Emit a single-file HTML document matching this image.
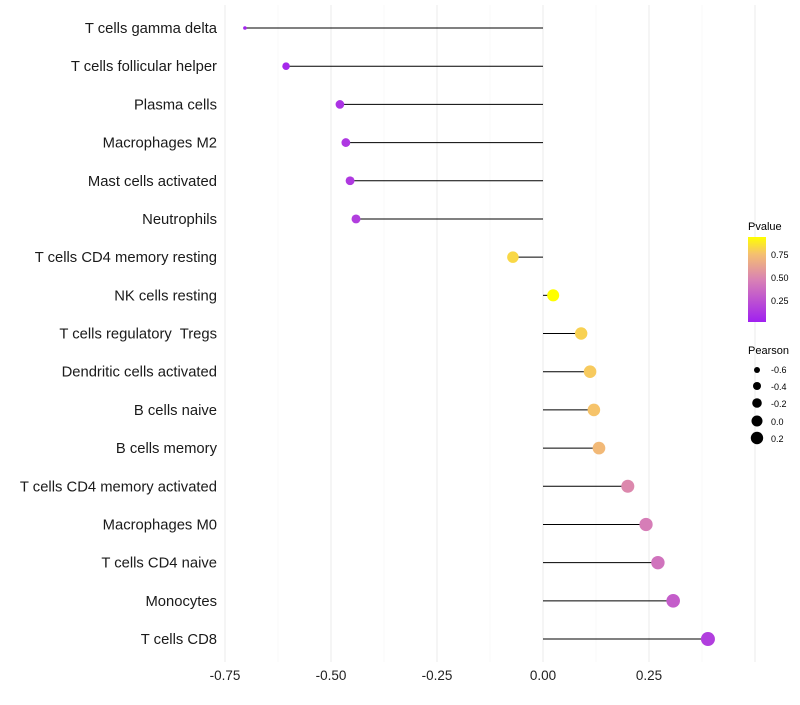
<!DOCTYPE html>
<html><head><meta charset="utf-8"><style>
body{margin:0;background:#fff;font-family:"Liberation Sans",sans-serif}
text{white-space:pre}
</style></head><body>
<svg id="chart" width="800" height="700" xmlns="http://www.w3.org/2000/svg">
<defs><linearGradient id="pg" x1="0" y1="1" x2="0" y2="0">
<stop offset="0" stop-color="#a020f0"/><stop offset="0.5" stop-color="#d982b4"/><stop offset="0.8" stop-color="#f5c070"/><stop offset="1" stop-color="#ffff00"/></linearGradient></defs>
<g id="grid"></g><g id="marks"></g><g id="labels"></g>
<g>
<text x="748" y="230" font-size="11">Pvalue</text>
<rect x="748" y="237" width="18" height="85" fill="url(#pg)"/>
<text x="771" y="258" font-size="9">0.75</text>
<text x="771" y="281" font-size="9">0.50</text>
<text x="771" y="304" font-size="9">0.25</text>
</g>
<g>
<text x="748" y="354" font-size="11">Pearson</text>
<circle cx="757" cy="370" r="3" /><text x="771" y="373" font-size="9">-0.6</text>
<circle cx="757" cy="386" r="4" /><text x="771" y="390" font-size="9">-0.4</text>
<circle cx="757" cy="403" r="4.8" /><text x="771" y="407" font-size="9">-0.2</text>
<circle cx="757" cy="421" r="5.5" /><text x="771" y="425" font-size="9">0.0</text>
<circle cx="757" cy="438" r="6.2" /><text x="771" y="442" font-size="9">0.2</text>
</g>
</svg>
<script>
const categories=["T cells gamma delta","T cells follicular helper","Plasma cells","Macrophages M2","Mast cells activated","Neutrophils","T cells CD4 memory resting","NK cells resting","T cells regulatory  Tregs","Dendritic cells activated","B cells naive","B cells memory","T cells CD4 memory activated","Macrophages M0","T cells CD4 naive","Monocytes","T cells CD8"];
const pearson=[-0.703,-0.606,-0.479,-0.465,-0.455,-0.441,-0.071,0.024,0.090,0.111,0.120,0.132,0.200,0.243,0.271,0.307,0.389];
const pvalue=[0.03,0.05,0.1,0.12,0.13,0.15,0.82,0.95,0.8,0.78,0.76,0.72,0.5,0.45,0.4,0.3,0.15];
const xticks=[-0.75,-0.5,-0.25,0,0.25];
const xtickLabels=["-0.75","-0.50","-0.25","0.00","0.25"];
const X=v=>543+v*424;
const Y=i=>28+i*38.19;
const R=v=>v<-0.68?1.8:Math.sqrt(11+35*(v+0.7));
function col(p){const t=Math.max(0,Math.min(1,(p-0.01)/0.925));
 const st=[[0,[160,32,240]],[0.5,[217,130,180]],[0.8,[245,192,112]],[1,[255,255,0]]];
 for(let k=1;k<st.length;k++){if(t<=st[k][0]){const a=st[k-1],b=st[k],f=(t-a[0])/(b[0]-a[0]);
  return `rgb(${a[1].map((c,j)=>Math.round(c+(b[1][j]-c)*f)).join(',')})`;}}return "#ff0";}
const NS="http://www.w3.org/2000/svg";
function mk(tag,attrs,parent){const e=document.createElementNS(NS,tag);for(const k in attrs)e.setAttribute(k,attrs[k]);document.getElementById(parent).appendChild(e);return e;}
for(let v=-0.75;v<=0.5001;v+=0.125){const major=xticks.some(t=>Math.abs(t-v)<1e-6)||Math.abs(v-0.5)<1e-6;
 const l=mk('line',{x1:X(v),x2:X(v),y1:5,y2:662,stroke:major?'#ebebeb':'#f4f4f4','stroke-width':major?1:0.6},'grid');
 
 }
xticks.forEach((t,i)=>{const e=mk('text',{x:X(t),y:680,'font-size':13.5,'text-anchor':'middle',fill:'#222'},'labels');e.textContent=xtickLabels[i];
 
 });
categories.forEach((c,i)=>{
 const t=mk('text',{x:217,y:Y(i)+5,'font-size':14.8,'text-anchor':'end',fill:'#1a1a1a'},'labels');t.textContent=c;
 
 
 const l=mk('line',{x1:X(0),x2:X(pearson[i]),y1:Y(i),y2:Y(i),stroke:'#000','stroke-width':1},'marks');
 
 
 const p=mk('circle',{cx:X(pearson[i]),cy:Y(i),r:R(pearson[i]),fill:col(pvalue[i])},'marks');
 
 
});
</script>
</body></html>
